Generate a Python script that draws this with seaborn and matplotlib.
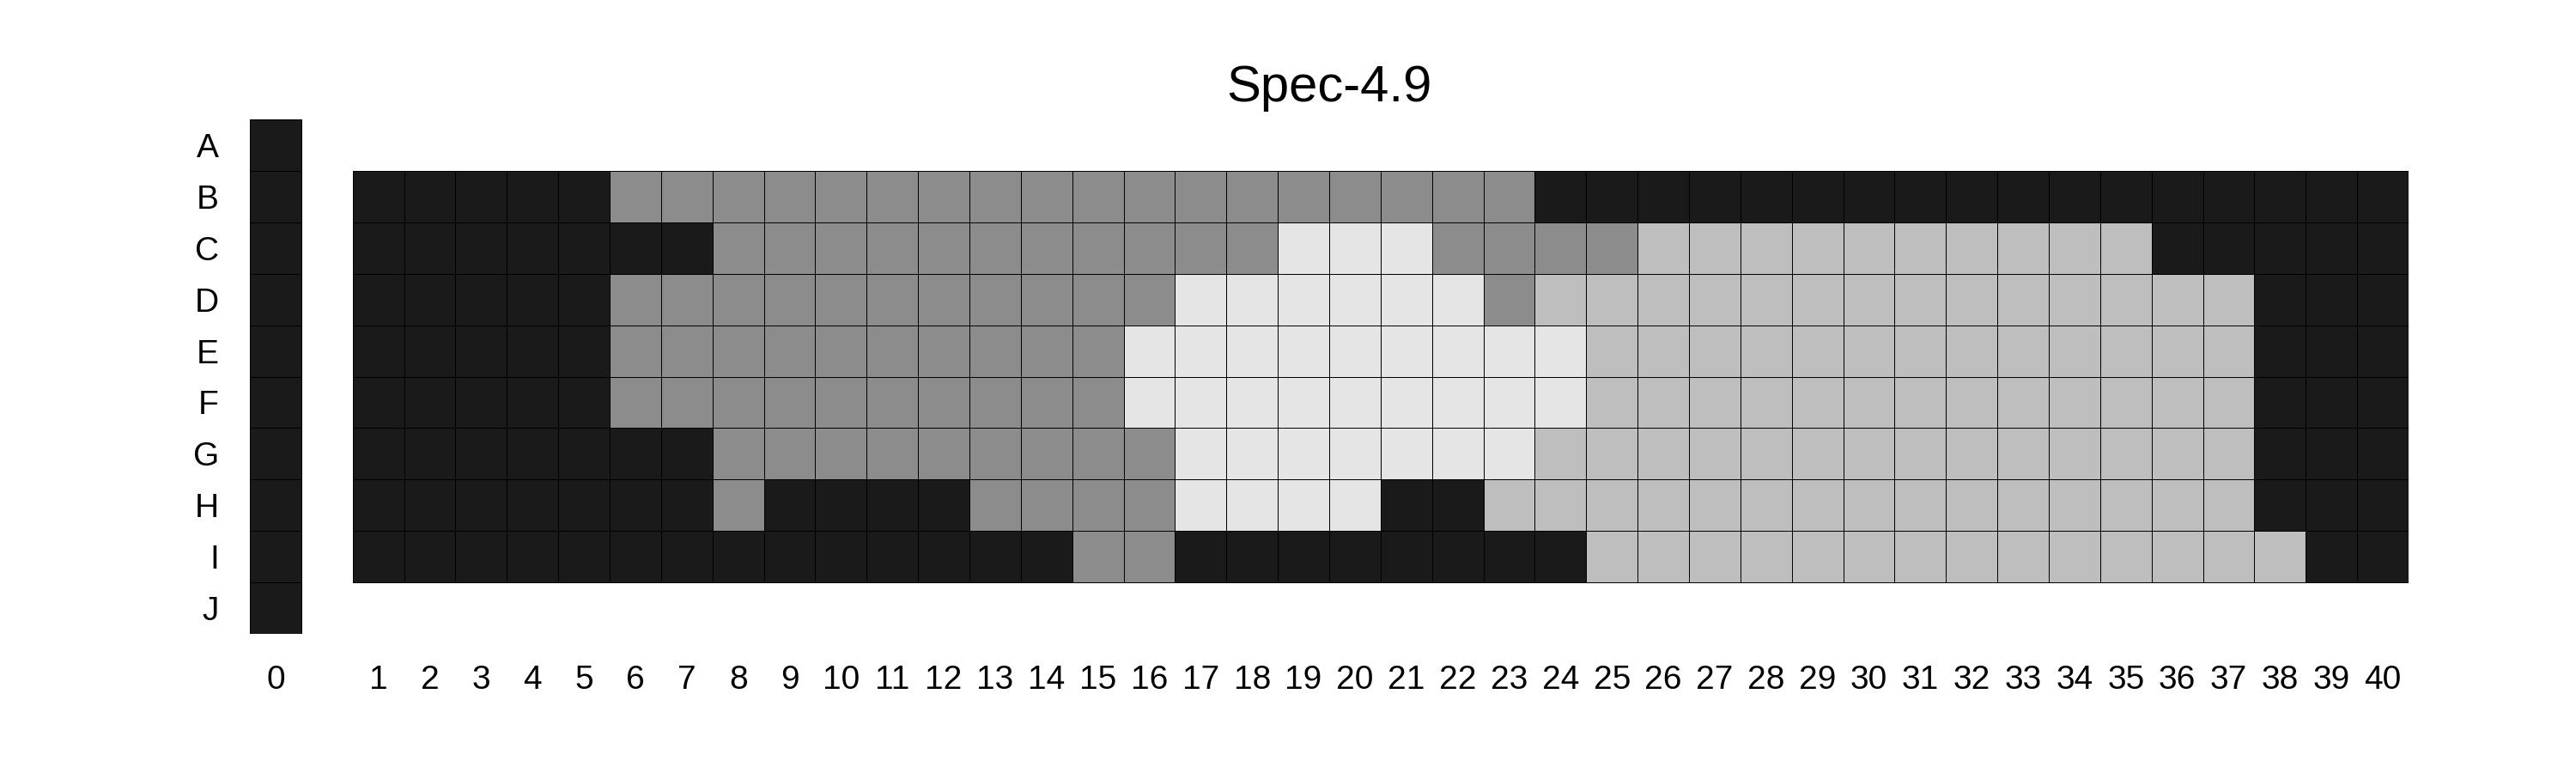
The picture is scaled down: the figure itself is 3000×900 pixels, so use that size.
import numpy as np
import pandas as pd
import matplotlib
matplotlib.use("Agg")
import matplotlib.pyplot as plt
from matplotlib.colors import ListedColormap
import seaborn as sns

# Niveles: 0 = negro, 1 = gris oscuro, 2 = gris claro, 3 = casi blanco
level_colors = ["#1a1a1a", "#8c8c8c", "#bebebe", "#e5e5e5"]

row_labels = ["A", "B", "C", "D", "E", "F", "G", "H", "I", "J"]

# Columna 0 (filas A-J)
col0 = [0, 0, 0, 0, 0, 0, 0, 0, 0, 0]

# Columnas 1-40 (filas B-I)
row_B = [0, 0, 0, 0, 0, 1, 1, 1, 1, 1, 1, 1, 1, 1, 1, 1, 1, 1, 1, 1,
         1, 1, 1, 0, 0, 0, 0, 0, 0, 0, 0, 0, 0, 0, 0, 0, 0, 0, 0, 0]
row_C = [0, 0, 0, 0, 0, 0, 0, 1, 1, 1, 1, 1, 1, 1, 1, 1, 1, 1, 3, 3,
         3, 1, 1, 1, 1, 2, 2, 2, 2, 2, 2, 2, 2, 2, 2, 0, 0, 0, 0, 0]
row_D = [0, 0, 0, 0, 0, 1, 1, 1, 1, 1, 1, 1, 1, 1, 1, 1, 3, 3, 3, 3,
         3, 3, 1, 2, 2, 2, 2, 2, 2, 2, 2, 2, 2, 2, 2, 2, 2, 0, 0, 0]
row_E = [0, 0, 0, 0, 0, 1, 1, 1, 1, 1, 1, 1, 1, 1, 1, 3, 3, 3, 3, 3,
         3, 3, 3, 3, 2, 2, 2, 2, 2, 2, 2, 2, 2, 2, 2, 2, 2, 0, 0, 0]
row_F = [0, 0, 0, 0, 0, 1, 1, 1, 1, 1, 1, 1, 1, 1, 1, 3, 3, 3, 3, 3,
         3, 3, 3, 3, 2, 2, 2, 2, 2, 2, 2, 2, 2, 2, 2, 2, 2, 0, 0, 0]
row_G = [0, 0, 0, 0, 0, 0, 0, 1, 1, 1, 1, 1, 1, 1, 1, 1, 3, 3, 3, 3,
         3, 3, 3, 2, 2, 2, 2, 2, 2, 2, 2, 2, 2, 2, 2, 2, 2, 0, 0, 0]
row_H = [0, 0, 0, 0, 0, 0, 0, 1, 0, 0, 0, 0, 1, 1, 1, 1, 3, 3, 3, 3,
         0, 0, 2, 2, 2, 2, 2, 2, 2, 2, 2, 2, 2, 2, 2, 2, 2, 0, 0, 0]
row_I = [0, 0, 0, 0, 0, 0, 0, 0, 0, 0, 0, 0, 0, 0, 1, 1, 0, 0, 0, 0,
         0, 0, 0, 0, 2, 2, 2, 2, 2, 2, 2, 2, 2, 2, 2, 2, 2, 2, 0, 0]

col_labels = [str(i) for i in range(1, 41)]

# Construir la matriz: columna 0, hueco, columnas 1-40
plate_rows = {"B": row_B, "C": row_C, "D": row_D, "E": row_E,
              "F": row_F, "G": row_G, "H": row_H, "I": row_I}
matrix = np.full((len(row_labels), 42), np.nan)
for r, lab in enumerate(row_labels):
    matrix[r, 0] = col0[r]
    if lab in plate_rows:
        matrix[r, 2:] = plate_rows[lab]

columns = ["0", ""] + col_labels
df = pd.DataFrame(matrix, index=row_labels, columns=columns)

sns.set_style("white")
plt.rcParams["font.family"] = ["Liberation Sans", "DejaVu Sans"]
plt.rcParams["text.color"] = "black"
plt.rcParams["xtick.color"] = "black"
plt.rcParams["ytick.color"] = "black"

fig = plt.figure(figsize=(30, 9), dpi=100)
ax = fig.add_axes([291 / 3000, 162 / 900, 2514 / 3000, 599 / 900])

sns.heatmap(df, ax=ax, cmap=ListedColormap(level_colors), vmin=-0.5, vmax=3.5,
            cbar=False, linewidths=0.7, linecolor="black",
            xticklabels=False, yticklabels=False)

# Sin bordes en las celdas vacías
mesh = ax.collections[0]
empty = np.isnan(matrix).ravel()
edge = np.zeros((empty.size, 4))
edge[:, 3] = np.where(empty, 0.0, 1.0)
mesh.set_edgecolor(edge)

ax.set_xticks(np.arange(len(columns)) + 0.5)
ax.set_xticklabels(columns, rotation=0, fontsize=28)
ax.set_yticks(np.arange(len(row_labels)) + 0.5)
ax.set_yticklabels(row_labels, rotation=0, fontsize=28)
ax.tick_params(axis="both", length=0, pad=26)
ax.set_xlabel("")
ax.set_ylabel("")
ax.set_title("Spec-4.9", fontsize=43, pad=15, color="black")

plt.savefig("out.png", dpi=100)
